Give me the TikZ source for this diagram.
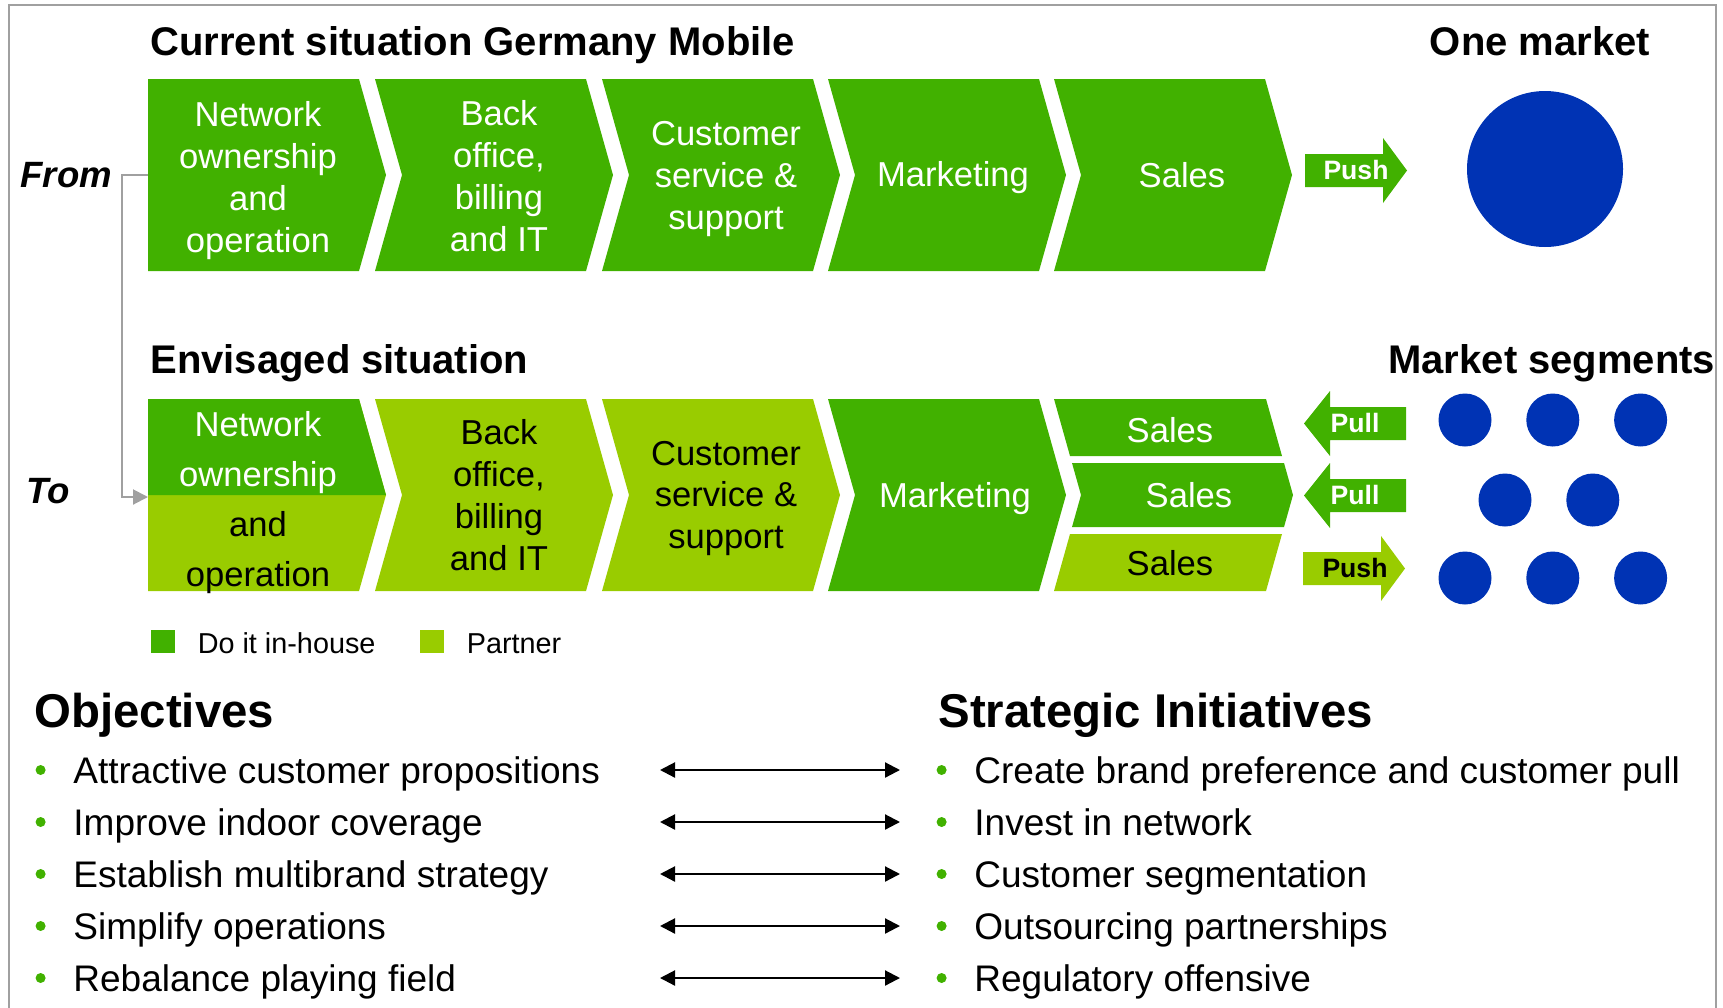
\documentclass[tikz,border=0pt]{standalone}
\usepackage{fontspec}
\setmainfont{Liberation Sans}
\usetikzlibrary{positioning,arrows.meta}

\definecolor{dkgreen}{RGB}{65,177,0}
\definecolor{ltgreen}{RGB}{153,204,0}
\definecolor{mktblue}{RGB}{0,51,180}
\definecolor{rulegray}{RGB}{160,160,160}

\tikzset{
  dk/.style={fill=dkgreen},
  lt/.style={fill=ltgreen},
  stage/.style={align=center, inner sep=0pt, text=white, font=\fontsize{17.3}{21}\selectfont},
  heading/.style={inner sep=0pt, font=\fontsize{20}{24}\selectfont\bfseries},
  bighead/.style={inner sep=0pt, font=\fontsize{23.7}{28}\selectfont\bfseries},
  fromto/.style={inner sep=0pt, font=\fontsize{18.3}{22}\selectfont\bfseries\itshape},
  tag/.style={inner sep=0pt, font=\fontsize{13.3}{16}\selectfont\bfseries},
  bigdot/.style={circle, fill=mktblue, inner sep=0pt, minimum size=78pt},
  segdot/.style={circle, fill=mktblue, inner sep=0pt, minimum size=26.5pt},
  keybox/.style={fill=#1, inner sep=0pt, minimum width=12pt, minimum height=11.5pt},
  legend/.style={inner sep=0pt, font=\fontsize{14.4}{17}\selectfont},
  bullet/.style={circle, fill=dkgreen, inner sep=0pt, minimum size=5pt, xshift=-13.5pt},
  item/.style={inner sep=0pt, text height=15pt, text depth=2pt,
    font=\fontsize{18.5}{22}\selectfont, label={[bullet]left:{}}},
  tie/.style={{Triangle[length=7.5pt,width=7.5pt]}-{Triangle[length=7.5pt,width=7.5pt]}, line width=1.1pt},
  flow/.style={-{Triangle[length=7.5pt,width=7.5pt]}, draw=rulegray, line width=1pt},
  pics/pusharrow/.style={code={\fill (-51,-16.5) -- (27,-16.5) -- (27,-32.5) -- (51,0)
    -- (27,32.5) -- (27,16.5) -- (-51,16.5) -- cycle;}},
  pics/pullarrow/.style={code={\fill (51,-16.5) -- (-25,-16.5) -- (-25,-32.5) -- (-51,0)
    -- (-25,32.5) -- (-25,16.5) -- (51,16.5) -- cycle;}},
}

% one step of the value chain, top left corner at (#2,#3)
\newcommand{\chev}[3]{\fill[#1] (#2,#3) -- ++(211,0) -- ++(27,96) -- ++(-27,96) -- ++(-211,0) -- ++(27,-96) -- cycle;}
% first step, flat on the left
\newcommand{\headchev}[2]{\fill[#1] (148,#2) -- ++(211,0) -- ++(27,96) -- ++(-27,96) -- ++(-211,0) -- cycle;}

\begin{document}
\begin{tikzpicture}[x=0.5pt, y=-0.5pt, node distance=8.6pt]
  \useasboundingbox (0,0) rectangle (1723,1007);
  \draw[rulegray, line width=1pt] (9,5) rectangle (1716,1030);

  % Value chain today
  \headchev{dk}{79}
  \chev{dk}{375}{79}
  \chev{dk}{602}{79}
  \chev{dk}{828}{79}
  \chev{dk}{1054}{79}
  % Value chain planned
  \headchev{lt}{399}
  \fill[dk] (148,399) -- ++(211,0) -- ++(27,96) -- ++(-238,0) -- cycle;
  \chev{lt}{375}{399}
  \chev{lt}{602}{399}
  \chev{dk}{828}{399}
  \fill[dk] (1054,399) -- (1266,399) -- (1282,456) -- (1070,456) -- cycle;
  \fill[dk] (1072,463) -- (1284,463) -- (1293,495) -- (1284,527) -- (1072,527) -- (1081,495) -- cycle;
  \fill[lt] (1070,534) -- (1282,534) -- (1266,591) -- (1054,591) -- cycle;

  % Push and pull
  \pic[fill=dkgreen] at (1356,170.5) {pusharrow};
  \pic[fill=dkgreen] at (1355,423.5) {pullarrow};
  \pic[fill=dkgreen] at (1355,495.5) {pullarrow};
  \pic[fill=ltgreen] at (1354,568.5) {pusharrow};

  % Define nodes
  \node[heading, anchor=base west] (cur) at (150,55) {Current situation Germany Mobile};
  \node[heading, anchor=base] (onem) at (1540,55) {One market};
  \node[heading, anchor=base west] (env) at (150,373) {Envisaged situation};
  \node[heading, anchor=base west] (segs) at (1388,373) {Market segments};
  \node[fromto, anchor=base west] (from) at (20,187) {From};
  \node[fromto, anchor=base west] (to) at (26,503) {To};

  \node[stage] (net) at (258,180.5) {Network\\ownership\\and\\operation};
  \node[stage] (back) at (499,176) {Back\\office,\\billing\\and IT};
  \node[stage] (care) at (726,179) {Customer\\service \&\\support};
  \node[stage] (mkt) at (953,178) {Marketing};
  \node[stage] (sales) at (1182,175) {Sales};

  \node[stage, text=black, font=\fontsize{17.3}{25}\selectfont] (net2) at (258,502.5)
    {\textcolor{white}{Network}\\\textcolor{white}{ownership}\\and\\operation};
  \node[stage, text=black] (back2) at (499,495) {Back\\office,\\billing\\and IT};
  \node[stage, text=black] (care2) at (726,498.5) {Customer\\service \&\\support};
  \node[stage] (mkt2) at (955,499) {Marketing};
  \node[stage] (salesa) at (1170,430) {Sales};
  \node[stage] (salesb) at (1189,495) {Sales};
  \node[stage, text=black] (salesc) at (1170,563) {Sales};

  \node[tag, text=white] (push) at (1356,170) {Push};
  \node[tag, text=white] (pulla) at (1355,423) {Pull};
  \node[tag, text=white] (pullb) at (1355,495) {Pull};
  \node[tag] (pushb) at (1355,568) {Push};

  \node[bigdot] (one) at (1545,169) {};
  \node[segdot] (s1) at (1465,420) {};
  \node[segdot, right=17pt of s1] (s2) {};
  \node[segdot, right=17pt of s2] (s3) {};
  \node[segdot] (s4) at (1505,500) {};
  \node[segdot, right=17pt of s4] (s5) {};
  \node[segdot] (s6) at (1465,578) {};
  \node[segdot, right=17pt of s6] (s7) {};
  \node[segdot, right=17pt of s7] (s8) {};

  \node[keybox=dkgreen] (inhouse) at (163,641.5) {};
  \node[legend, right=11pt of inhouse, yshift=-1pt] (inhousetxt) {Do it in-house};
  \node[keybox=ltgreen] (partner) at (432,641.5) {};
  \node[legend, right=11pt of partner, yshift=-1pt] (partnertxt) {Partner};

  \node[bighead, anchor=base west] (obj) at (34,727) {Objectives};
  \node[bighead, anchor=base west] (ini) at (938,727) {Strategic Initiatives};

  \node[item, anchor=base west] (obj1) at (73,783) {Attractive customer propositions};
  \node[item, below=of obj1.south west, anchor=north west] (obj2) {Improve indoor coverage};
  \node[item, below=of obj2.south west, anchor=north west] (obj3) {Establish multibrand strategy};
  \node[item, below=of obj3.south west, anchor=north west] (obj4) {Simplify operations};
  \node[item, below=of obj4.south west, anchor=north west] (obj5) {Rebalance playing field};

  \node[item, anchor=base west] (ini1) at (974,783) {Create brand preference and customer pull};
  \node[item, below=of ini1.south west, anchor=north west] (ini2) {Invest in network};
  \node[item, below=of ini2.south west, anchor=north west] (ini3) {Customer segmentation};
  \node[item, below=of ini3.south west, anchor=north west] (ini4) {Outsourcing partnerships};
  \node[item, below=of ini4.south west, anchor=north west] (ini5) {Regulatory offensive};

  \coordinate (curin) at (148,175);
  \coordinate (envin) at (148,497);
  \coordinate (la) at (660,0);
  \coordinate (ra) at (900,0);

  % Connect nodes
  \draw[flow] (curin) -- ++(-26,0) |- (envin);
  \draw[tie] (obj1 -| la) -- (obj1 -| ra);
  \draw[tie] (obj2 -| la) -- (obj2 -| ra);
  \draw[tie] (obj3 -| la) -- (obj3 -| ra);
  \draw[tie] (obj4 -| la) -- (obj4 -| ra);
  \draw[tie] (obj5 -| la) -- (obj5 -| ra);
\end{tikzpicture}
\end{document}
